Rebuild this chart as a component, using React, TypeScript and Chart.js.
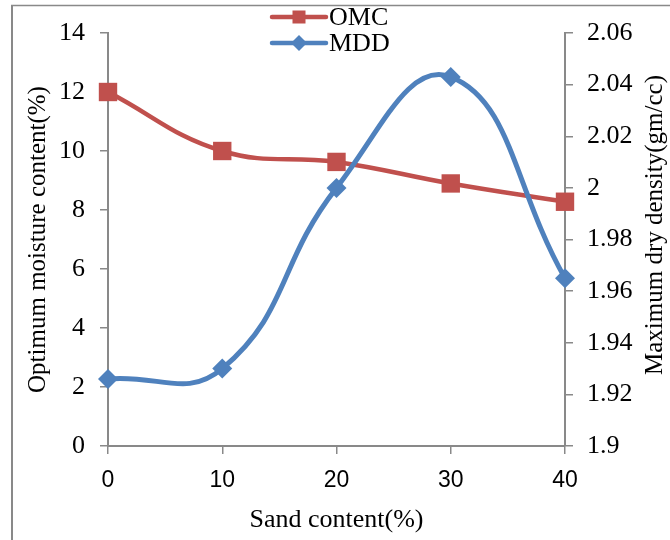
import React, { useEffect, useRef } from "react";
import { Chart, registerables } from "chart.js";

Chart.register(...registerables);

const sandContent = [0, 10, 20, 30, 40];
const omcValues = [12.0, 10.0, 9.63, 8.9, 8.28];
const mddValues = [1.926, 1.93, 2.0, 2.043, 1.965];
const xTicks = [0, 10, 20, 30, 40];
const leftTicks = [0, 2, 4, 6, 8, 10, 12, 14];
const rightTicks = [1.9, 1.92, 1.94, 1.96, 1.98, 2.0, 2.02, 2.04, 2.06];

const seriesLabels = ["OMC", "MDD"];
const seriesColors = ["#C0504D", "#4F81BD"];

const xTitle = "Sand content(%)";
const leftTitle = "Optimum moisture content(%)";
const rightTitle = "Maximum dry density(gm/cc)";

const SERIF = "'Liberation Serif', 'Times New Roman', serif";
const SANS = "'Liberation Sans', Arial, sans-serif";
const AXIS_GRAY = "#898989";

const framePlugin = {
  id: "frame",
  beforeDraw(chart: any) {
    const ctx = chart.ctx;
    ctx.save();
    ctx.fillStyle = "#ffffff";
    ctx.fillRect(0, 0, chart.width, chart.height);
    ctx.strokeStyle = AXIS_GRAY;
    ctx.lineWidth = 2;
    ctx.beginPath();
    ctx.moveTo(12, 5);
    ctx.lineTo(12, chart.height);
    ctx.stroke();
    ctx.lineWidth = 1.5;
    ctx.beginPath();
    ctx.moveTo(11, 5.5);
    ctx.lineTo(chart.width, 5.5);
    ctx.stroke();
    ctx.restore();
  },
};

const customTextPlugin = {
  id: "customText",
  afterDraw(chart: any) {
    const ctx = chart.ctx;
    ctx.save();
    // right axis title, reading bottom to top
    ctx.translate(655, 225);
    ctx.rotate(-Math.PI / 2);
    ctx.font = `25px ${SERIF}`;
    ctx.fillStyle = "#000";
    ctx.textAlign = "center";
    ctx.textBaseline = "middle";
    ctx.fillText(rightTitle, 0, 0);
    ctx.restore();

    // legend (stacked)
    const ds = chart.data.datasets;
    const rows = [17, 43];
    ds.forEach((d: any, i: number) => {
      const y = rows[i];
      ctx.save();
      ctx.strokeStyle = d.borderColor;
      ctx.fillStyle = d.borderColor;
      ctx.lineWidth = 4.5;
      ctx.lineCap = "round";
      ctx.beginPath();
      ctx.moveTo(272, y);
      ctx.lineTo(326, y);
      ctx.stroke();
      const cx = 299;
      if (d.pointStyle === "rect") {
        ctx.fillRect(cx - 6.5, y - 6.5, 13, 13);
      } else {
        ctx.beginPath();
        ctx.moveTo(cx - 8, y);
        ctx.lineTo(cx, y - 8);
        ctx.lineTo(cx + 8, y);
        ctx.lineTo(cx, y + 8);
        ctx.closePath();
        ctx.fill();
      }
      ctx.font = `26px ${SERIF}`;
      ctx.fillStyle = "#000";
      ctx.textAlign = "left";
      ctx.textBaseline = "middle";
      ctx.fillText(d.label, 329, y + 1);
      ctx.restore();
    });
  },
};

export default function App() {
  const canvasRef = useRef<HTMLCanvasElement | null>(null);

  useEffect(() => {
    if (!canvasRef.current) return;
    const gridCommon = {
      drawOnChartArea: false,
      color: AXIS_GRAY,
      lineWidth: 1.5,
      tickLength: 8,
    };
    const borderCommon = { color: AXIS_GRAY, width: 2 };
    const chart = new Chart(canvasRef.current, {
      type: "line",
      data: {
        datasets: [
          {
            label: seriesLabels[0],
            data: sandContent.map((x, i) => ({ x, y: omcValues[i] })),
            yAxisID: "y",
            borderColor: seriesColors[0],
            backgroundColor: seriesColors[0],
            borderWidth: 4.5,
            pointStyle: "rect",
            pointRadius: 13,
            pointBorderWidth: 0,
            tension: 0.42,
            order: 1,
            clip: false,
          },
          {
            label: seriesLabels[1],
            data: sandContent.map((x, i) => ({ x, y: mddValues[i] })),
            yAxisID: "y1",
            borderColor: seriesColors[1],
            backgroundColor: seriesColors[1],
            borderWidth: 5,
            pointStyle: "rectRot",
            pointRadius: 10,
            pointBorderWidth: 0,
            tension: 0.45,
            order: 0,
            clip: false,
          },
        ],
      } as any,
      options: {
        animation: false,
        responsive: false,
        layout: { padding: { top: 33, left: 0, right: 0, bottom: 0 } },
        plugins: {
          legend: { display: false },
          tooltip: { enabled: false },
        },
        scales: {
          x: {
            type: "linear",
            position: "bottom",
            min: xTicks[0],
            max: xTicks[xTicks.length - 1],
            afterBuildTicks: (a: any) => {
              a.ticks = xTicks.map((v) => ({ value: v }));
            },
            afterFit: (a: any) => {
              a.height = 94;
            },
            grid: gridCommon,
            border: borderCommon,
            ticks: {
              font: { family: SANS, size: 23 },
              color: "#000",
              padding: 13,
              maxRotation: 0,
              autoSkip: false,
              callback: (v: any) => String(v),
            },
            title: {
              display: true,
              text: xTitle,
              font: { family: SERIF, size: 26 },
              color: "#000",
              padding: { top: 0, bottom: 4 },
            },
          },
          y: {
            type: "linear",
            position: "left",
            min: leftTicks[0],
            max: leftTicks[leftTicks.length - 1],
            afterBuildTicks: (a: any) => {
              a.ticks = leftTicks.map((v) => ({ value: v }));
            },
            afterFit: (a: any) => {
              a.width = 108;
            },
            grid: gridCommon,
            border: borderCommon,
            ticks: {
              font: { family: SERIF, size: 26 },
              color: "#000",
              padding: 15,
              autoSkip: false,
              callback: (v: any) => String(v),
            },
            title: {
              display: true,
              text: leftTitle,
              font: { family: SERIF, size: 25 },
              color: "#000",
              padding: { top: 23, bottom: 0 },
            },
          },
          y1: {
            type: "linear",
            position: "right",
            min: rightTicks[0],
            max: rightTicks[rightTicks.length - 1],
            afterBuildTicks: (a: any) => {
              a.ticks = rightTicks.map((v) => ({ value: v }));
            },
            afterFit: (a: any) => {
              a.width = 105;
            },
            grid: gridCommon,
            border: borderCommon,
            ticks: {
              font: { family: SERIF, size: 26 },
              color: "#000",
              padding: 14,
              autoSkip: false,
              callback: (v: any) => String(Number(Number(v).toFixed(2))),
            },
            title: { display: false },
          },
        },
      } as any,
      plugins: [framePlugin, customTextPlugin],
    });
    return () => chart.destroy();
  }, []);

  return (
    <div style={{ position: "absolute", left: 0, top: 0, width: 670, height: 540 }}>
      <canvas ref={canvasRef} width={670} height={540} style={{ display: "block" }} />
    </div>
  );
}
